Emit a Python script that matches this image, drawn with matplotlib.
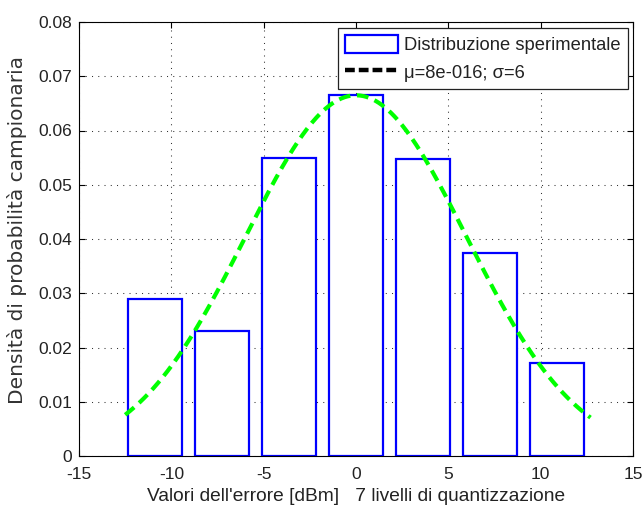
import numpy as np
import matplotlib
matplotlib.use("Agg")
import matplotlib.pyplot as plt
from matplotlib.lines import Line2D
from matplotlib.patches import Patch

plt.rcParams['font.family'] = ['Liberation Sans', 'DejaVu Sans']

# Histogram of quantization error (7 levels)
bin_centers = [-10.89, -7.26, -3.63, 0.0, 3.63, 7.26, 10.89]
densities = [0.0289, 0.0230, 0.0549, 0.0665, 0.0548, 0.0374, 0.0172]
mu = 8e-16
sigma = 6.0
curve_range = (-12.5, 12.7)

xticks = [-15, -10, -5, 0, 5, 10, 15]
yticks = [0, 0.01, 0.02, 0.03, 0.04, 0.05, 0.06, 0.07, 0.08]
ytick_labels = ['0', '0.01', '0.02', '0.03', '0.04', '0.05', '0.06', '0.07', '0.08']

txt_color = '#222222'

fig = plt.figure(figsize=(6.43, 5.07), dpi=100)
ax = fig.add_axes([79 / 643, 51 / 507, 554 / 643, 434 / 507])

step = bin_centers[1] - bin_centers[0]
ax.bar(bin_centers, densities, width=0.8 * step, facecolor='white',
       edgecolor='#0000ff', linewidth=1.6, zorder=2)

xs = np.linspace(curve_range[0], curve_range[1], 300)
pdf = np.exp(-(xs - mu) ** 2 / (2 * sigma ** 2)) / (sigma * np.sqrt(2 * np.pi))
ax.plot(xs, pdf, color='#00ff00', linestyle=(0, (2.8, 1.6)), linewidth=3, zorder=3)

ax.set_xlim(-15, 15)
ax.set_ylim(0, 0.08)
ax.set_xticks(xticks)
ax.set_xticklabels([str(t) for t in xticks])
ax.set_yticks(yticks)
ax.set_yticklabels(ytick_labels)
ax.tick_params(direction='in', length=4, labelsize=12.5, colors='black',
               labelcolor=txt_color, top=True, right=True, width=0.8)
ax.tick_params(axis='y', pad=5)
ax.tick_params(axis='x', pad=8)
ax.grid(True, linestyle=(0, (1, 5)), color='#333333', linewidth=0.75, zorder=0)
ax.set_axisbelow(True)
for s in ax.spines.values():
    s.set_linewidth(0.8)

ax.set_xlabel("Valori dell'errore [dBm]   7 livelli di quantizzazione",
              fontsize=13.8, color=txt_color, labelpad=4)
ax.set_ylabel("Densità di probabilità campionaria",
              fontsize=14.5, color='#333333', family=['DejaVu Sans'])
ax.yaxis.set_label_coords(-0.094, 0.52)

handles = [Patch(facecolor='white', edgecolor='#0000ff', linewidth=1.6),
           Line2D([0], [0], color='black', linestyle=(0, (2.2, 0.9)), linewidth=3.2)]
labels = ['Distribuzione sperimentale', 'μ=8e-016; σ=6']
leg = ax.legend(handles, labels, loc='upper right', fontsize=13.2,
                frameon=True, fancybox=False, edgecolor='#222222',
                borderaxespad=0.3, handlelength=2.9, handleheight=1.15,
                handletextpad=0.3, borderpad=0.4, labelspacing=0.45,
                framealpha=1)
leg.get_frame().set_linewidth(0.9)
for t in leg.get_texts():
    t.set_color(txt_color)

fig.savefig('out.png', dpi=100)
